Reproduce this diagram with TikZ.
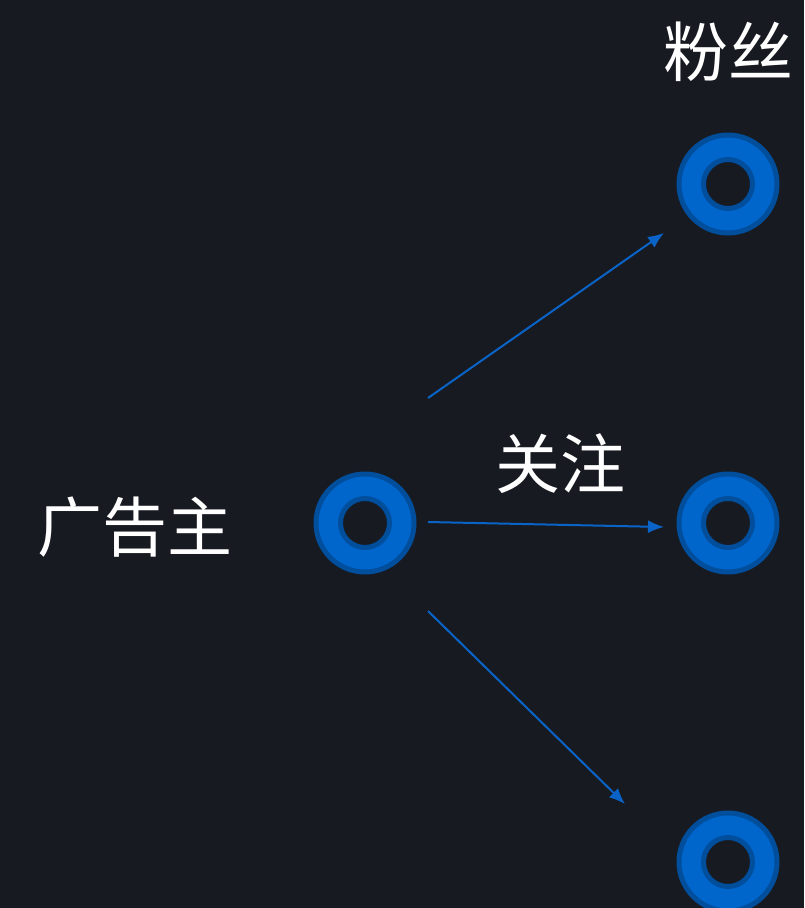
\documentclass[tikz,border=0pt]{standalone}
\usepackage{fontspec}
\newfontfamily\cjk{Noto Sans CJK SC}
\usetikzlibrary{arrows.meta}
\definecolor{bg}{RGB}{23,26,33}
\definecolor{ringblue}{RGB}{0,102,204}
\definecolor{ringdark}{RGB}{0,78,156}
\definecolor{arrowblue}{RGB}{10,100,200}
\tikzset{
  ring/.pic={
    \fill[ringblue, draw=ringdark, line width=5pt] (0,0) circle (49);
    \fill[bg, draw=ringdark, line width=5pt] (0,0) circle (24.5);
  },
  lbl/.style={text=white, font=\cjk\fontsize{65}{72}\selectfont, inner sep=0pt},
  conn/.style={arrowblue, line width=2pt, -{Latex[length=16pt,width=13pt]}}
}
\begin{document}
\begin{tikzpicture}[x=1pt,y=-1pt]
\fill[bg] (0,0) rectangle (804,908);
\useasboundingbox (0,0) rectangle (804,908);
\node[minimum size=104pt, inner sep=0pt] (adv) at (365,523) {};
\node[minimum size=104pt, inner sep=0pt] (f1) at (728,184) {};
\node[minimum size=104pt, inner sep=0pt] (f2) at (728,523) {};
\node[minimum size=104pt, inner sep=0pt] (f3) at (728,862) {};
\pic at (adv) {ring};
\pic at (f1) {ring};
\pic at (f2) {ring};
\pic at (f3) {ring};
\node[lbl] (tadv) at (135,527) {广告主};
\node[lbl] (tfans) at (728,52) {粉丝};
\node[lbl] (tfollow) at (560,464) {关注};
\coordinate (s1) at (428,398);
\coordinate (e1) at (664,233);
\coordinate (s2) at (428,522);
\coordinate (e2) at (664,527);
\coordinate (s3) at (428,611);
\coordinate (e3) at (625,804);
\draw[conn] (s1) -- (e1);
\draw[conn] (s2) -- (e2);
\draw[conn] (s3) -- (e3);
\end{tikzpicture}
\end{document}
